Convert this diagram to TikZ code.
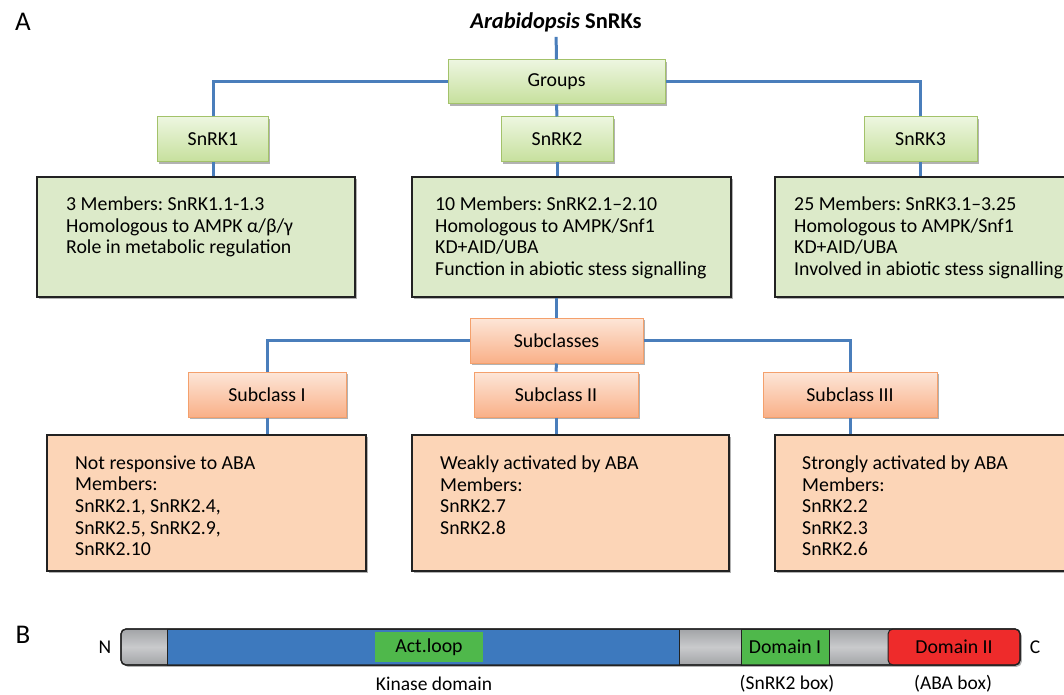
\documentclass[tikz,border=0pt]{standalone}
\usepackage{fontspec}
\setmainfont{Carlito}
\usetikzlibrary{shadows}
\frenchspacing
\definecolor{conncol}{HTML}{4A7EBB}
\definecolor{gtop}{HTML}{EDF6E0}
\definecolor{gbot}{HTML}{C6E09C}
\definecolor{gborder}{HTML}{A3C26A}
\definecolor{gbig}{HTML}{DCEAC9}
\definecolor{otop}{HTML}{FDE6D8}
\definecolor{obot}{HTML}{F9B088}
\definecolor{oborder}{HTML}{F4A06C}
\definecolor{obig}{HTML}{FCD5B7}
\definecolor{boxline}{HTML}{222222}
\definecolor{bargray}{HTML}{C9CACC}
\definecolor{bargraydk}{HTML}{A2A4A7}
\definecolor{barblue}{HTML}{3D79BE}
\definecolor{bargreen}{HTML}{4FB84B}
\definecolor{barred}{HTML}{EE2B2B}
\begin{document}
\begin{tikzpicture}[x=1pt,y=-1pt,
  every node/.style={font=\fontsize{19.8}{21.6}\selectfont\frenchspacing, inner sep=0pt},
  conn/.style={draw=conncol, line width=3pt},
  myshadow/.style={drop shadow={shadow xshift=1.8pt, shadow yshift=-1.8pt, opacity=0.3, fill=black}},
  gsmall/.style={draw=gborder, line width=1pt, top color=gtop, bottom color=gbot, myshadow},
  osmall/.style={draw=oborder, line width=1pt, top color=otop, bottom color=obot, myshadow},
  gbigbox/.style={draw=boxline, line width=1.3pt, fill=gbig, myshadow},
  obigbox/.style={draw=boxline, line width=1.3pt, fill=obig, myshadow},
  txt/.style={align=left, anchor=north west},
  seg/.style={draw=boxline, line width=1pt, minimum height=36pt},
  lbl/.style={font=\fontsize{19.5}{21}\selectfont}
]
\useasboundingbox (0,0) rectangle (1064,695);
\clip (0,0) rectangle (1064,695);

% panel letters and title
\node[font=\fontsize{27}{30}\selectfont] (labA) at (23,22) {A};
\node[font=\fontsize{27}{30}\selectfont] (labB) at (23,635) {B};
\node[font=\fontsize{22.5}{24}\selectfont] (title) at (556,22) {\bfseries\itshape Arabidopsis\/ \upshape SnRKs};

% group level
\node[gsmall, minimum width=217pt, minimum height=44pt] (groups) at (556.5,82) {Groups};
\node[gsmall, minimum width=111pt, minimum height=45pt] (s1) at (213,139.5) {SnRK1};
\node[gsmall, minimum width=112pt, minimum height=45pt] (s2) at (557,139.5) {SnRK2};
\node[gsmall, minimum width=113pt, minimum height=45pt] (s3) at (920.5,139.5) {SnRK3};

\node[gbigbox, minimum width=318pt, minimum height=120pt] (g1) at (196,237) {};
\node[gbigbox, minimum width=319pt, minimum height=120pt] (g2) at (571.5,237) {};
\node[gbigbox, minimum width=320pt, minimum height=120pt] (g3) at (935,237) {};

\node[txt] (g1t) at (66,196.5) {3 Members: SnRK1.1-1.3\\Homologous to AMPK α/β/γ\\Role in metabolic regulation};
\node[txt] (g2t) at (435,196.5) {10 Members: SnRK2.1–2.10\\Homologous to AMPK/Snf1\\KD+AID/UBA\\Function in abiotic stess signalling};
\node[txt] (g3t) at (794,196.5) {25 Members: SnRK3.1–3.25\\Homologous to AMPK/Snf1\\KD+AID/UBA\\Involved in abiotic stess signalling};

% subclass level
\node[osmall, minimum width=173pt, minimum height=45pt] (subc) at (556.5,340.5) {Subclasses};
\node[osmall, minimum width=158pt, minimum height=45pt] (sc1) at (267,394.5) {Subclass I};
\node[osmall, minimum width=164pt, minimum height=45pt] (sc2) at (556,394.5) {Subclass II};
\node[osmall, minimum width=174pt, minimum height=45pt] (sc3) at (850,394.5) {Subclass III};

\node[obigbox, minimum width=319pt, minimum height=136pt] (o1) at (206.5,503) {};
\node[obigbox, minimum width=317pt, minimum height=136pt] (o2) at (570.5,503) {};
\node[obigbox, minimum width=320pt, minimum height=136pt] (o3) at (935,503) {};

\node[txt] (o1t) at (75,455.5) {Not responsive to ABA\\Members:\\SnRK2.1, SnRK2.4,\\SnRK2.5, SnRK2.9,\\SnRK2.10};
\node[txt] (o2t) at (440,455.5) {Weakly activated by ABA\\Members:\\SnRK2.7\\SnRK2.8};
\node[txt] (o3t) at (802,455.5) {Strongly activated by ABA\\Members:\\SnRK2.2\\SnRK2.3\\SnRK2.6};

% connectors
\draw[conn, shorten <=5pt] (title.south) -- (groups.north);
\draw[conn] (groups.west) -| (s1.north);
\draw[conn] (groups.east) -| (s3.north);
\draw[conn] (groups.south) -- (s2.north);
\draw[conn] (s1.south) -- (s1.south |- g1.north);
\draw[conn] (s2.south) -- (s2.south |- g2.north);
\draw[conn] (s3.south) -- (s3.south |- g3.north);
\draw[conn] (subc.north |- g2.south) -- (subc.north);
\draw[conn] (subc.west) -| (sc1.north);
\draw[conn] (subc.east) -| (sc3.north);
\draw[conn] (subc.south) -- (sc2.north);
\draw[conn] (sc1.south) -- (sc1.south |- o1.north);
\draw[conn] (sc2.south) -- (sc2.south |- o2.north);
\draw[conn] (sc3.south) -- (sc3.south |- o3.north);

% domain bar
\node[seg, rounded corners=5pt, minimum width=899pt, line width=1.2pt, myshadow,
      top color=bargraydk, bottom color=bargraydk, middle color=bargray] (bar) at (570.5,647) {};
\node[seg, fill=barblue, minimum width=512pt] (kd) at (423,647) {};
\node[fill=bargreen, minimum width=108pt, minimum height=30pt] (act) at (429,647) {Act.loop};
\node[seg, fill=bargreen, minimum width=88pt] (d1) at (785,647) {Domain I};
\node[seg, fill=barred, rounded corners=5pt, minimum width=132pt] (d2) at (954,647) {Domain II};
\node[seg, rounded corners=5pt, minimum width=899pt, line width=1.2pt] (barline) at (570.5,647) {};

\node[lbl] (nN) at (105,647) {N};
\node[lbl] (nC) at (1035,647) {C};
\node[lbl] (kdl) at (434,684) {Kinase domain};
\node[lbl] (d1l) at (787,684) {(SnRK2 box)};
\node[lbl] (d2l) at (953,684) {(ABA box)};
\end{tikzpicture}
\end{document}
